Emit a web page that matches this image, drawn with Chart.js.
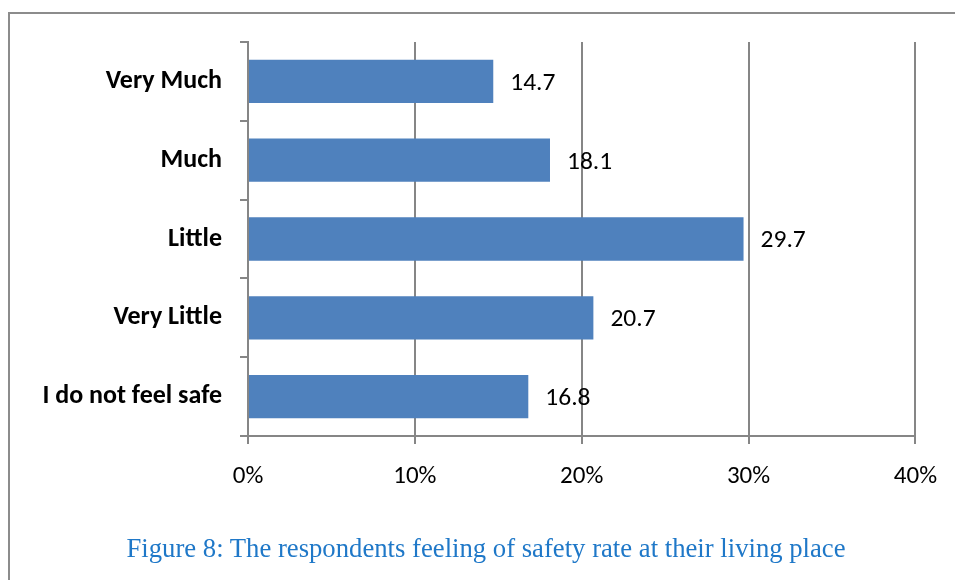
<!DOCTYPE html>
<html>
<head>
<meta charset="utf-8">
<script src="https://cdn.jsdelivr.net/npm/chart.js@4/dist/chart.umd.min.js"></script>
<style>
  html, body { margin: 0; padding: 0; background: #fff; }
  #wrap { position: relative; width: 955px; height: 580px; overflow: hidden; }
  #frame { position: absolute; left: 8px; top: 12px; width: 1000px; height: 620px;
           border: 2px solid #8c8c8c; box-sizing: border-box; }
  canvas { position: absolute; left: 0; top: 0; }
  #caption { position: absolute; left: 0; width: 972px; top: 533px; text-align: center;
             font-family: "Liberation Serif", "Times New Roman", serif; font-size: 26.7px; color: #1f78c8; }
</style>
</head>
<body>
<div id="wrap">
  <div id="frame"></div>
  <canvas id="safetyChart" width="955" height="580"></canvas>
  <div id="caption">Figure 8: The respondents feeling of safety rate at their living place</div>
</div>
<script>
// Feeling of safety categories and shares (%)
const categories = ["Very Much", "Much", "Little", "Very Little", "I do not feel safe"];
const shares = [14.7, 18.1, 29.7, 20.7, 16.8];
const xTicks = [0, 10, 20, 30, 40];

const gridGray = "#868686";
const fontFamily = "Carlito, Lato, 'Open Sans', sans-serif";

// Draw value labels just past the end of each bar
const valueLabels = {
    id: "valueLabels",
    afterDatasetsDraw(chart) {
        const ctx = chart.ctx;
        const meta = chart.getDatasetMeta(0);
        ctx.save();
        ctx.font = "25.5px " + fontFamily;
        ctx.fillStyle = "#000";
        ctx.textBaseline = "middle";
        ctx.textAlign = "left";
        meta.data.forEach((bar, i) => {
            ctx.fillText(shares[i].toFixed(1), bar.x + 17, bar.y + 2);
        });
        ctx.restore();
    }
};

const ctx = document.getElementById("safetyChart").getContext("2d");
new Chart(ctx, {
    type: "bar",
    data: {
        labels: categories,
        datasets: [{
            data: shares,
            backgroundColor: "#4f81bd",
            borderWidth: 0,
            categoryPercentage: 1,
            barPercentage: 0.55
        }]
    },
    options: {
        indexAxis: "y",
        responsive: false,
        animation: false,
        layout: { padding: { top: 42, right: 39, left: 0, bottom: 0 } },
        plugins: { legend: { display: false }, tooltip: { enabled: false } },
        scales: {
            x: {
                min: 0,
                max: 40,
                afterBuildTicks: (scale) => { scale.ticks = xTicks.map(v => ({ value: v })); },
                afterFit: (scale) => { scale.height = 144; },
                grid: { color: gridGray, lineWidth: 2, tickLength: 8 },
                border: { color: gridGray, width: 2 },
                ticks: {
                    padding: 18,
                    color: "#000",
                    font: { family: fontFamily, size: 25 },
                    callback: (v) => v + "%"
                }
            },
            y: {
                afterFit: (scale) => { scale.width = 248; },
                grid: { drawOnChartArea: false, color: gridGray, lineWidth: 2, tickLength: 8, offset: true },
                border: { color: gridGray, width: 2 },
                ticks: {
                    padding: 18,
                    color: "#000",
                    font: { family: fontFamily, size: 26, weight: "bold" }
                }
            }
        }
    },
    plugins: [valueLabels]
});
</script>
</body>
</html>
